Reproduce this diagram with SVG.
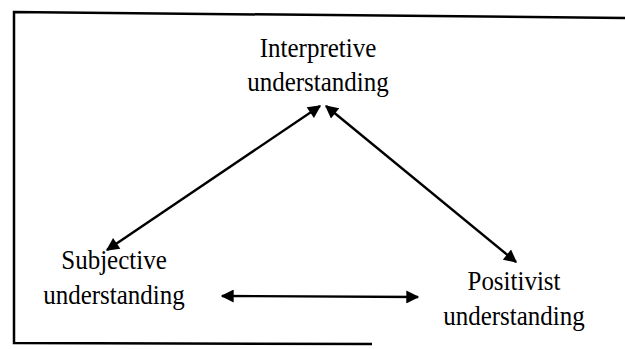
<svg xmlns="http://www.w3.org/2000/svg" width="625" height="349" viewBox="0 0 625 349">
  <defs>
    <marker id="head" viewBox="0 0 10 10" refX="9" refY="5" markerWidth="14" markerHeight="13" markerUnits="userSpaceOnUse" orient="auto-start-reverse">
      <path d="M0,0 L10,5 L0,10 z" fill="#000"/>
    </marker>
    <style>
      .lbl { font-family: "Liberation Serif", "Times New Roman", serif; font-size: 25px; fill: #000; text-anchor: middle; }
      .arrow { stroke: #000; stroke-width: 2.4; fill: none; marker-start: url(#head); marker-end: url(#head); }
      .frame { stroke: #000; stroke-width: 2.5; fill: none; }
    </style>
  </defs>
  <rect width="625" height="349" fill="#fff"/>

  <!-- open frame: top, left and part of the bottom edge -->
  <polyline class="frame" points="625,18 14,12 14,343 372,344"/>

  <!-- labels are set in a slightly tall serif face -->
  <g id="interpretive">
    <text class="lbl" transform="translate(318,57) scale(1,1.12)">Interpretive</text>
    <text class="lbl" transform="translate(318,91) scale(1,1.12)">understanding</text>
  </g>
  <g id="subjective">
    <text class="lbl" transform="translate(114,269) scale(1,1.12)">Subjective</text>
    <text class="lbl" transform="translate(114,304) scale(1,1.12)">understanding</text>
  </g>
  <g id="positivist">
    <text class="lbl" transform="translate(514,290) scale(1,1.12)">Positivist</text>
    <text class="lbl" transform="translate(514,325) scale(1,1.12)">understanding</text>
  </g>

  <g id="connectors">
    <line class="arrow" x1="320" y1="106" x2="107" y2="250"/>
    <line class="arrow" x1="326" y1="106" x2="516" y2="262"/>
    <line class="arrow" x1="222" y1="296" x2="418" y2="297"/>
  </g>
</svg>
